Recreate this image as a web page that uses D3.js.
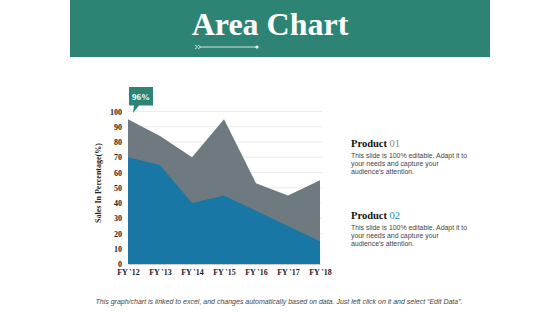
<!DOCTYPE html>
<html>
<head>
<meta charset="utf-8">
<script src="https://cdn.jsdelivr.net/npm/d3@7"></script>
<style>
  body { margin: 0; background: #fff; }
  svg { display: block; }
</style>
</head>
<body>
<svg id="chart"></svg>
<script>
// Chart data
const categories = ["FY '12", "FY '13", "FY '14", "FY '15", "FY '16", "FY '17", "FY '18"];
const product01 = [95, 84, 70, 95, 53, 45, 55];
const product02 = [70, 65, 40, 45, 35, 25, 15];
const yTicks = [0, 10, 20, 30, 40, 50, 60, 70, 80, 90, 100];
const calloutLabel = "96%";

const width = 560, height = 315;
const svg = d3.select('#chart')
    .attr('width', width)
    .attr('height', height);

// Header band
svg.append('rect')
    .attr('x', 70).attr('y', 0)
    .attr('width', 420).attr('height', 57)
    .attr('fill', '#2e8474');

svg.append('text')
    .attr('x', 270).attr('y', 35)
    .attr('text-anchor', 'middle')
    .attr('font-family', '"Liberation Serif", "Times New Roman", serif')
    .attr('font-weight', 'bold')
    .attr('font-size', 32)
    .attr('fill', '#fff')
    .text('Area Chart');

// little arrow decoration under the title
const deco = svg.append('g').attr('stroke', '#fff').attr('fill', 'none').attr('stroke-width', 0.8);
deco.append('path').attr('d', 'M195,45 l2.5,2 l-2.5,2 M198,45 l2.5,2 l-2.5,2');
deco.append('line').attr('x1', 200).attr('y1', 47).attr('x2', 256).attr('y2', 47);
svg.append('circle').attr('cx', 257).attr('cy', 47).attr('r', 1.6).attr('fill', '#fff');

// Plot area
const x = d3.scalePoint().domain(categories).range([128, 320]);
const y = d3.scaleLinear().domain([0, 100]).range([264, 111.5]);

// gridlines
svg.append('g')
    .selectAll('line')
    .data(yTicks.filter(d => d > 0))
    .enter()
    .append('line')
    .attr('x1', 128).attr('x2', 322)
    .attr('y1', d => y(d)).attr('y2', d => y(d))
    .attr('stroke', '#e3e3e3')
    .attr('stroke-width', 0.7);

const area = d3.area()
    .x((d, i) => x(categories[i]))
    .y0(y(0))
    .y1(d => y(d));

svg.append('path')
    .datum(product01)
    .attr('d', area)
    .attr('fill', '#6f7a80');

svg.append('path')
    .datum(product02)
    .attr('d', area)
    .attr('fill', '#1877a5');

// Y axis labels
const yAxis = d3.axisLeft(y).tickValues(yTicks).tickSize(0).tickPadding(6);
const gy = svg.append('g').attr('transform', 'translate(128,0)').call(yAxis);
gy.select('.domain').remove();
gy.selectAll('text')
    .attr('font-family', '"Liberation Serif", serif')
    .attr('font-weight', 'bold')
    .attr('font-size', 8)
    .attr('fill', '#222');

// X axis labels
const xAxis = d3.axisBottom(x).tickSize(0).tickPadding(5);
const gx = svg.append('g').attr('transform', 'translate(0,264)').call(xAxis);
gx.select('.domain').attr('stroke', '#ccc');
gx.selectAll('text')
    .attr('font-family', '"Liberation Serif", serif')
    .attr('font-weight', 'bold')
    .attr('font-size', 8)
    .attr('fill', '#222');

// Y axis title
svg.append('text')
    .attr('transform', 'translate(101,183) rotate(-90)')
    .attr('text-anchor', 'middle')
    .attr('font-family', '"Liberation Serif", serif')
    .attr('font-weight', 'bold')
    .attr('font-size', 8)
    .attr('fill', '#222')
    .text('Sales In Percentage(%)');

// Callout
svg.append('path')
    .attr('d', 'M129,87 H153 V105.5 H139 L133,113 L134,105.5 H129 Z')
    .attr('fill', '#2e8474');
svg.append('text')
    .attr('x', 141).attr('y', 99.5)
    .attr('text-anchor', 'middle')
    .attr('font-family', '"Liberation Serif", serif')
    .attr('font-weight', 'bold')
    .attr('font-size', 9)
    .attr('fill', '#fff')
    .text(calloutLabel);

// Legend / product notes
const notes = [
    { num: '01', color: '#888', y: 147 },
    { num: '02', color: '#1a8ab8', y: 219 }
];
const body = ['This slide is 100% editable. Adapt it to', 'your needs and capture your', "audience's attention."];

notes.forEach(n => {
    const t = svg.append('text')
        .attr('x', 351).attr('y', n.y)
        .attr('font-family', '"Liberation Serif", serif')
        .attr('font-size', 10.5);
    t.append('tspan').attr('font-weight', 'bold').attr('fill', '#111').text('Product ');
    t.append('tspan').attr('fill', n.color).text(n.num);
    body.forEach((line, i) => {
        svg.append('text')
            .attr('x', 351).attr('y', n.y + 11 + i * 8)
            .attr('font-family', '"Liberation Sans", Arial, sans-serif')
            .attr('font-size', 6.9)
            .attr('fill', '#444')
            .text(line);
    });
});

// Footer
svg.append('text')
    .attr('x', 279).attr('y', 304)
    .attr('text-anchor', 'middle')
    .attr('font-family', '"Liberation Sans", Arial, sans-serif')
    .attr('font-style', 'italic')
    .attr('font-size', 7)
    .attr('fill', '#444')
    .text('This graph/chart is linked to excel, and changes automatically based on data. Just left click on it and select \u201cEdit Data\u201d.');
</script>
</body>
</html>
